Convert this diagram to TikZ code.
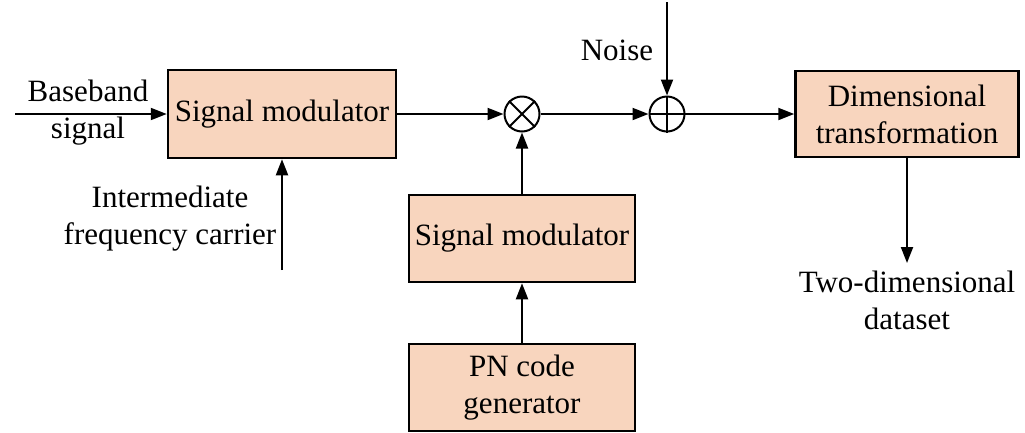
\documentclass[tikz,border=0pt]{standalone}
\usepackage{fontspec}
\setmainfont{Liberation Serif}
\usetikzlibrary{arrows.meta,positioning}
\definecolor{boxfill}{RGB}{248,213,190}

\tikzset{
	block/.style={draw, line width=2.5pt, fill=boxfill, minimum width=228pt, minimum height=88pt,
		align=center, inner sep=0pt, font=\fontsize{31}{37}\selectfont},
	txt/.style={align=center, inner sep=0pt, font=\fontsize{31}{37}\selectfont},
	sig/.style={line width=2pt, -{Triangle[length=16pt,width=12pt]}},
	mixer/.style={draw, circle, line width=2pt, minimum size=35pt, inner sep=0pt}
}

\begin{document}
\begin{tikzpicture}[x=1pt,y=-1pt]
		\useasboundingbox (0,0) rectangle (1025,432);
		
		% blocks
		\node[block] (mod1) at (282,114) {Signal modulator};
		\node[block, minimum width=226pt, minimum height=87pt] (mod2) at (522,238.5) {Signal modulator};
		\node[block, minimum width=226pt, minimum height=87pt] (pn) at (522,387.5) {PN code\\generator};
		\node[block, minimum width=223pt, minimum height=86pt] (dim) at (907,114) {Dimensional\\transformation};
		
		% multiplier and adder
		\node[mixer] (mult) at (522,114) {};
		\draw[line width=2pt] (mult.45) -- (mult.225) (mult.135) -- (mult.315);
		\node[mixer] (add) at (667,114) {};
		\draw[line width=2pt] (add.north) -- (add.south) (add.west) -- (add.east);
		
		% free ends
		\coordinate (bbin) at (15,114);
		\coordinate (ifc) at (282,270);
		\coordinate (nz) at (667,2);
		\coordinate (out) at (907,263);
		
		% connectors
		\draw[sig] (bbin) -- (mod1.west);
		\draw[sig] (ifc) -- (mod1.south);
		\draw[sig] (mod1.east) -- (mult.west);
		\draw[sig] (pn.north) -- (mod2.south);
		\draw[sig] (mod2.north) -- (mult.south);
		\draw[sig] (mult.east) -- (add.west);
		\draw[sig] (nz) -- (add.north);
		\draw[sig] (add.east) -- (dim.west);
		\draw[sig] (dim.south) -- (out);
		
		% labels
		\node[txt] (bbtxt) at (88,113) {Baseband\\signal};
		\node[txt] (ifctxt) at (170,219) {Intermediate\\frequency carrier};
		\node[txt] (nztxt) at (617,50) {Noise};
		\node[txt] (dstxt) at (907,300) {Two-dimensional\\dataset};
	\end{tikzpicture}
\end{document}
